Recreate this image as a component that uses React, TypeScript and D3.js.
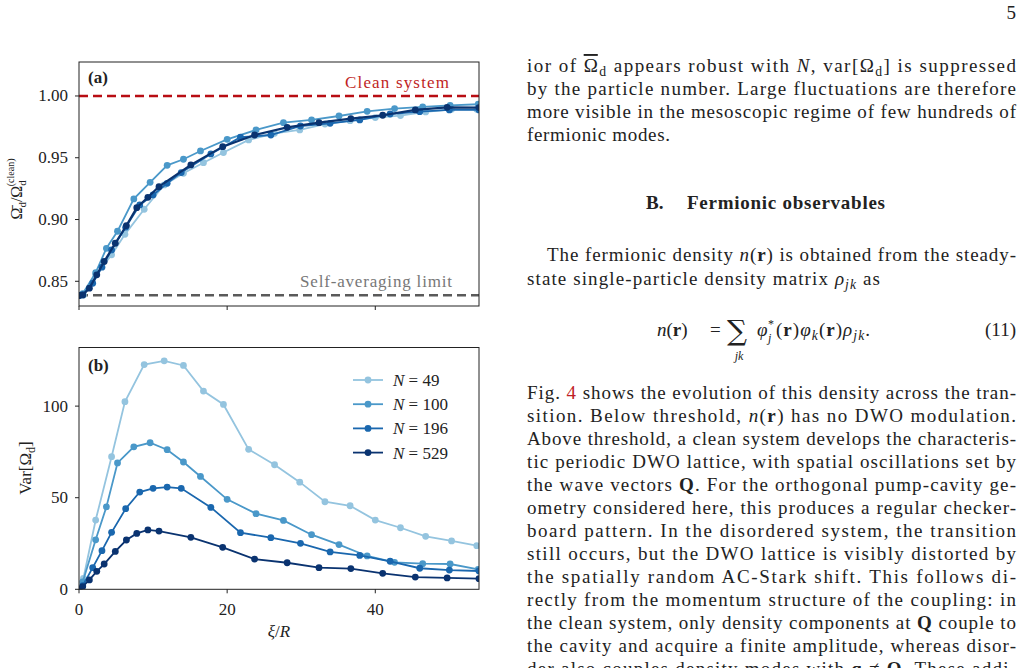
import React from 'react';
import * as d3 from 'd3';

// N = 49, 100, 196, 529 — xi/R positions, order-parameter ratio and variance
const xi49 = [0, 0.6, 2.25, 4.4, 6.2, 8.8, 11.5, 14.1, 16.8, 19.5, 22.9, 26.4, 29.8, 33.2, 36.6, 40, 43.4, 46.8, 50.3, 53.7];
const ratio49 = [0.8385, 0.839, 0.8552, 0.8714, 0.888, 0.9083, 0.928, 0.9374, 0.946, 0.9542, 0.9644, 0.9698, 0.9725, 0.9773, 0.98, 0.9825, 0.9841, 0.9871, 0.9892, 0.9892];
const var49 = [0, 6, 37.8, 72.4, 102.4, 122.7, 124.7, 122.2, 108.2, 100.9, 76.4, 68, 58.5, 47.8, 45.6, 37.8, 33.6, 28.9, 26.4, 23.8];

const xi100 = [0, 0.5, 2.25, 3.7, 5.2, 7.4, 9.6, 11.9, 14.1, 16.4, 20, 23.9, 27.6, 31.4, 35.1, 38.9, 42.6, 46.4, 50.1, 53.9];
const ratio100 = [0.8385, 0.84, 0.857, 0.8767, 0.8905, 0.9167, 0.9301, 0.9439, 0.9488, 0.9555, 0.9649, 0.9725, 0.9784, 0.9806, 0.9838, 0.9876, 0.9898, 0.9911, 0.9924, 0.9933];
const var100 = [0, 4, 27, 45, 69, 77.8, 80, 76.2, 69.5, 61.6, 49.1, 41.3, 37.6, 29.8, 24.4, 18.2, 14.7, 14, 13.8, 10.9];

const xi196 = [0, 0.5, 1.85, 3.1, 4.4, 6.3, 8.2, 10, 11.9, 13.8, 17.8, 21.8, 25.9, 29.9, 33.9, 37.9, 42, 46, 50, 54];
const ratio196 = [0.8385, 0.839, 0.8484, 0.8614, 0.8754, 0.8937, 0.9118, 0.9199, 0.9293, 0.938, 0.9531, 0.9666, 0.9684, 0.9757, 0.9779, 0.9806, 0.9854, 0.9873, 0.9887, 0.9887];
const var196 = [0, 2, 11.8, 21.1, 31.1, 44, 53.1, 55.1, 55.8, 55.1, 44.7, 30.9, 28.2, 25.1, 20.4, 18.5, 15.3, 11.5, 10.5, 10];

const xi529 = [0, 0.5, 1.4, 2.4, 3.4, 4.9, 6.4, 7.8, 9.3, 10.8, 15.1, 19.4, 23.7, 28.1, 32.4, 36.7, 41, 45.4, 49.7, 54];
const ratio529 = [0.8385, 0.839, 0.8444, 0.8552, 0.866, 0.8808, 0.8951, 0.9096, 0.918, 0.9266, 0.9442, 0.959, 0.9684, 0.9746, 0.9784, 0.9817, 0.9844, 0.9887, 0.9908, 0.9906];
const var529 = [0, 1.5, 5.1, 9.8, 13.8, 20.7, 26.9, 30.5, 32.4, 31.8, 28.4, 22.9, 16.5, 14.5, 11.8, 11.3, 8.7, 6.7, 6.2, 5.8];

const nValues = ['49', '100', '196', '529'];
const cleanLevel = 1.0;
const selfAvgLevel = 0.8387;
const xTicks = [0, 20, 40];
const yTicksA = [0.85, 0.9, 0.95, 1.0];
const yTicksB = [0, 50, 100];

const series = [
  { n: nValues[0], xi: xi49, ratio: ratio49, vr: var49, color: '#94c4df' },
  { n: nValues[1], xi: xi100, ratio: ratio100, vr: var100, color: '#4a98c9' },
  { n: nValues[2], xi: xi196, ratio: ratio196, vr: var196, color: '#1a67ae' },
  { n: nValues[3], xi: xi529, ratio: ratio529, vr: var529, color: '#0a3370' },
];

const FONT = '"Liberation Serif", "DejaVu Serif", serif';
const BODY = 19;
const left = 79, right = 479;
const x = d3.scaleLinear().domain([0, 54]).range([left, right]);
const yA = d3.scaleLinear().domain([0.83, 1.0275]).range([306, 62]);
const yB = d3.scaleLinear().domain([0, 132]).range([589.3, 347.5]);

const Sub = ({ children, italic }: any) => (
  <tspan fontSize="0.72em" dy={4} fontStyle={italic ? 'italic' : undefined}>{children}</tspan>
);

const Line = ({ y, x0 = 527, w = 489, children }: any) => (
  <text x={x0} y={y} textLength={w} lengthAdjust="spacing" fontSize={BODY}>{children}</text>
);

const App = () => {
  const lineA = (s: any) => d3.line<number>().x((_, i) => x(s.xi[i])).y((d) => yA(d))(s.ratio) || '';
  const lineB = (s: any) => d3.line<number>().x((_, i) => x(s.xi[i])).y((d) => yB(d))(s.vr) || '';
  const red = '#bf1f26';

  return (
    <svg width={1024} height={668} style={{ position: 'absolute', left: 0, top: 0, background: '#fff' }} fontFamily={FONT}>
      <defs>
        <clipPath id="clipA"><rect x={left} y={62} width={right - left} height={244} /></clipPath>
        <clipPath id="clipB"><rect x={left} y={347.5} width={right - left} height={241.8} /></clipPath>
      </defs>
      <rect width={1024} height={668} fill="#fff" />

      {/* panel (a) */}
      <g clipPath="url(#clipA)">
        <line x1={left} x2={right} y1={yA(cleanLevel)} y2={yA(cleanLevel)} stroke="#b80d13" strokeWidth={2.6} strokeDasharray="9,5" />
        <line x1={left} x2={right} y1={yA(selfAvgLevel)} y2={yA(selfAvgLevel)} stroke="#5a5a5a" strokeWidth={2.6} strokeDasharray="9,5" />
        {series.map((s) => (
          <g key={'a' + s.n}>
            <path d={lineA(s)} fill="none" stroke={s.color} strokeWidth={s.n === '529' ? 2.2 : 1.8} />
            {s.ratio.map((v, i) => <circle key={i} cx={x(s.xi[i])} cy={yA(v)} r={3.4} fill={s.color} />)}
          </g>
        ))}
      </g>
      <rect x={left} y={62} width={right - left} height={244} fill="none" stroke="#222" strokeWidth={1} />
      {yTicksA.map((t) => (
        <g key={t}>
          <line x1={left - 4} x2={left} y1={yA(t)} y2={yA(t)} stroke="#222" />
          <text x={68} y={yA(t) + 5.5} textAnchor="end" fontSize={17} fill="#222">{t.toFixed(2)}</text>
        </g>
      ))}
      {xTicks.map((t) => <line key={t} x1={x(t)} x2={x(t)} y1={306} y2={310} stroke="#222" />)}
      <text x={88} y={83} fontSize={17} fontWeight="bold" fill="#222">(a)</text>
      <text x={449} y={88} textAnchor="end" fontSize={17} fill={red} textLength={104} lengthAdjust="spacing">Clean system</text>
      <text x={452} y={287} textAnchor="end" fontSize={17} fill="#777" textLength={152} lengthAdjust="spacing">Self-averaging limit</text>
      <text transform="translate(22,189) rotate(-90)" textAnchor="middle" fontSize={16} fill="#222">
        <tspan>Ω̄</tspan><tspan fontSize={11} dy={4}>d</tspan><tspan dy={-4}>/Ω</tspan><tspan fontSize={11} dy={4}>d</tspan><tspan fontSize={10} dx={-6} dy={-12}>(clean)</tspan>
      </text>

      {/* panel (b) */}
      <g clipPath="url(#clipB)">
        {series.map((s) => (
          <g key={'b' + s.n}>
            <path d={lineB(s)} fill="none" stroke={s.color} strokeWidth={1.8} />
            {s.vr.map((v, i) => <circle key={i} cx={x(s.xi[i])} cy={yB(v)} r={3.4} fill={s.color} />)}
          </g>
        ))}
      </g>
      <rect x={left} y={347.5} width={right - left} height={241.8} fill="none" stroke="#222" strokeWidth={1} />
      {yTicksB.map((t) => (
        <g key={t}>
          <line x1={left - 4} x2={left} y1={yB(t)} y2={yB(t)} stroke="#222" />
          <text x={68} y={yB(t) + 5.5} textAnchor="end" fontSize={17} fill="#222">{t}</text>
        </g>
      ))}
      {xTicks.map((t) => (
        <g key={t}>
          <line x1={x(t)} x2={x(t)} y1={589.3} y2={593.3} stroke="#222" />
          <text x={x(t)} y={615} textAnchor="middle" fontSize={17} fill="#222">{t}</text>
        </g>
      ))}
      <text x={279} y={637} textAnchor="middle" fontSize={17} fill="#222"><tspan fontStyle="italic">ξ</tspan>/<tspan fontStyle="italic">R</tspan></text>
      <text transform="translate(31,468) rotate(-90)" textAnchor="middle" fontSize={17} fill="#222">Var[Ω<tspan fontSize={12} dy={4}>d</tspan><tspan dy={-4}>]</tspan></text>
      <text x={88} y={371} fontSize={17} fontWeight="bold" fill="#222">(b)</text>
      {series.map((s, i) => {
        const ly = 380 + i * 24.2;
        return (
          <g key={'l' + s.n}>
            <line x1={353} x2={383} y1={ly} y2={ly} stroke={s.color} strokeWidth={1.8} />
            <circle cx={368} cy={ly} r={3.4} fill={s.color} />
            <text x={393} y={ly + 6} fontSize={17} fill="#222"><tspan fontStyle="italic">N</tspan> = {s.n}</text>
          </g>
        );
      })}

      {/* right column text */}
      <g fill="#222">
        <text x={1016} y={19} textAnchor="end" fontSize={BODY}>5</text>
        <Line y={72}>ior of <tspan style={{ textDecoration: 'overline' }}>Ω</tspan><Sub>d</Sub><tspan dy={-4}> appears robust with </tspan><tspan fontStyle="italic">N</tspan>, var[Ω<Sub>d</Sub><tspan dy={-4}>] is suppressed</tspan></Line>
        <Line y={95}>by the particle number. Large fluctuations are therefore</Line>
        <Line y={118}>more visible in the mesoscopic regime of few hundreds of</Line>
        <Line y={141} w={143}>fermionic modes.</Line>
        <text x={646} y={209} fontSize={BODY} fontWeight="bold">B.</text>
        <text x={687} y={209} fontSize={BODY} fontWeight="bold" textLength={198} lengthAdjust="spacing">Fermionic observables</text>
        <Line y={261} x0={547} w={469}>The fermionic density <tspan fontStyle="italic">n</tspan>(<tspan fontWeight="bold">r</tspan>) is obtained from the steady-</Line>
        <Line y={285} w={353}>state single-particle density matrix <tspan fontStyle="italic">ρ</tspan><Sub italic>jk</Sub><tspan dy={-4}> as</tspan></Line>
        <text x={657} y={336} fontSize={BODY}><tspan fontStyle="italic">n</tspan>(<tspan fontWeight="bold">r</tspan>)</text>
        <text x={710} y={336} fontSize={BODY}>=</text>
        <text x={727} y={340} fontSize={28} fontFamily='"DejaVu Serif", serif'>∑</text>
        <text x={739} y={360} fontSize={12} fontStyle="italic" textAnchor="middle">jk</text>
        <text x={757} y={336} fontSize={BODY} fontStyle="italic">φ</text>
        <text x={768} y={328} fontSize={12}>*</text>
        <text x={768} y={342} fontSize={12} fontStyle="italic">j</text>
        <text x={776} y={336} fontSize={BODY} textLength={94} lengthAdjust="spacing">(<tspan fontWeight="bold">r</tspan>)<tspan fontStyle="italic">φ</tspan><Sub italic>k</Sub><tspan dy={-4}>(</tspan><tspan fontWeight="bold">r</tspan>)<tspan fontStyle="italic">ρ</tspan><Sub italic>jk</Sub><tspan dy={-4}>.</tspan></text>
        <text x={1016} y={336} fontSize={BODY} textAnchor="end">(11)</text>
        <Line y={399}>Fig. <tspan fill={red}>4</tspan> shows the evolution of this density across the tran-</Line>
        <Line y={422}>sition.  Below threshold, <tspan fontStyle="italic">n</tspan>(<tspan fontWeight="bold">r</tspan>) has no DWO modulation.</Line>
        <Line y={445}>Above threshold, a clean system develops the characteris-</Line>
        <Line y={468}>tic periodic DWO lattice, with spatial oscillations set by</Line>
        <Line y={491}>the wave vectors <tspan fontWeight="bold">Q</tspan>. For the orthogonal pump-cavity ge-</Line>
        <Line y={514}>ometry considered here, this produces a regular checker-</Line>
        <Line y={537}>board pattern.  In the disordered system, the transition</Line>
        <Line y={560}>still occurs, but the DWO lattice is visibly distorted by</Line>
        <Line y={583}>the spatially random AC-Stark shift.  This follows di-</Line>
        <Line y={606}>rectly from the momentum structure of the coupling: in</Line>
        <Line y={629}>the clean system, only density components at <tspan fontWeight="bold">Q</tspan> couple to</Line>
        <Line y={652}>the cavity and acquire a finite amplitude, whereas disor-</Line>
        <Line y={675}>der also couples density modes with <tspan fontWeight="bold">q</tspan> ≠ <tspan fontWeight="bold">Q</tspan>. These addi-</Line>
      </g>
    </svg>
  );
};

export default App;
